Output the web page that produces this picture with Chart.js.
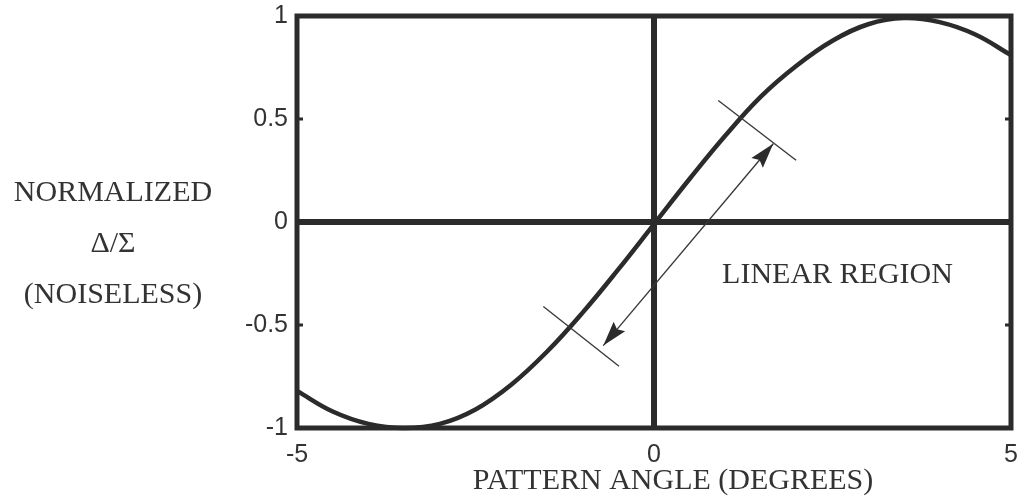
<!DOCTYPE html>
<html>
<head>
<meta charset="utf-8">
<script src="https://cdn.jsdelivr.net/npm/chart.js@4.4.1/dist/chart.umd.min.js"></script>
<style>
  html, body { margin: 0; padding: 0; background: #fff; }
  #wrap { width: 1025px; height: 498px; position: relative; }
</style>
</head>
<body>
<div id="wrap"><canvas id="grafico"></canvas></div>
<script>
// valores
const angulos = [-5, -4.5, -4, -3.5, -3, -2.5, -2, -1.5, -1, -0.5, 0, 0.5, 1, 1.5, 2, 2.5, 3, 3.5, 4, 4.5, 5];
const delta = [-0.82, -0.92, -0.98, -1.0, -0.98, -0.91, -0.79, -0.63, -0.44, -0.23, -0.01, 0.21, 0.42, 0.61, 0.76, 0.88, 0.96, 0.99, 0.97, 0.91, 0.81];
const xTicks = [-5, 0, 5];
const yTicks = [-1, -0.5, 0, 0.5, 1];

// marcas de la región lineal (en unidades de los ejes)
const marcaSup = [[0.90, 0.59], [1.99, 0.30]];
const marcaInf = [[-1.55, -0.41], [-0.49, -0.70]];
const flecha = [[-0.71, -0.60], [1.67, 0.38]];

const tituloY = ["NORMALIZED", "\u0394/\u03A3", "(NOISELESS)"];
const tituloX = "PATTERN ANGLE (DEGREES)";
const textoRegion = "LINEAR REGION";

const tinta = "#2b2b2b";
const serif = "'Liberation Serif', 'Times New Roman', serif";
const sans = "'Liberation Sans', Arial, sans-serif";

function punta(ctx, x0, y0, x1, y1) {
  const a = Math.atan2(y1 - y0, x1 - x0);
  const L = 25, w = 7.5;
  const c = Math.cos(a), s = Math.sin(a);
  ctx.beginPath();
  ctx.moveTo(x1, y1);
  ctx.lineTo(x1 - L * c + w * s, y1 - L * s - w * c);
  ctx.lineTo(x1 - L * 0.85 * c, y1 - L * 0.85 * s);
  ctx.lineTo(x1 - L * c - w * s, y1 - L * s + w * c);
  ctx.closePath();
  ctx.fill();
}

const marco = {
  id: "marco",
  beforeDatasetsDraw(chart) {
    const { ctx, chartArea: a, scales: { x, y } } = chart;
    ctx.save();
    ctx.strokeStyle = tinta;
    // ejes en cero
    ctx.lineWidth = 6;
    ctx.beginPath();
    ctx.moveTo(a.left, y.getPixelForValue(0));
    ctx.lineTo(a.right, y.getPixelForValue(0));
    ctx.moveTo(x.getPixelForValue(0), a.top);
    ctx.lineTo(x.getPixelForValue(0), a.bottom);
    ctx.stroke();
    // marcas internas
    ctx.lineWidth = 3;
    yTicks.forEach(v => {
      const py = y.getPixelForValue(v);
      ctx.beginPath();
      ctx.moveTo(a.left, py); ctx.lineTo(a.left + 6, py);
      ctx.moveTo(a.right, py); ctx.lineTo(a.right - 6, py);
      ctx.stroke();
    });
    // caja
    ctx.lineWidth = 5;
    ctx.strokeRect(a.left, a.top, a.right - a.left, a.bottom - a.top);
    ctx.restore();
  },
  afterDatasetsDraw(chart) {
    const { ctx, chartArea: a, scales: { x, y } } = chart;
    const px = p => [x.getPixelForValue(p[0]), y.getPixelForValue(p[1])];
    ctx.save();
    ctx.strokeStyle = "#3a3a3a";
    ctx.fillStyle = tinta;
    ctx.lineWidth = 1.4;
    [marcaSup, marcaInf, flecha].forEach(seg => {
      const p0 = px(seg[0]), p1 = px(seg[1]);
      ctx.beginPath();
      ctx.moveTo(p0[0], p0[1]);
      ctx.lineTo(p1[0], p1[1]);
      ctx.stroke();
    });
    const f0 = px(flecha[0]), f1 = px(flecha[1]);
    punta(ctx, f0[0], f0[1], f1[0], f1[1]);
    punta(ctx, f1[0], f1[1], f0[0], f0[1]);

    // textos
    ctx.fillStyle = "#333";
    ctx.font = "30px " + serif;
    ctx.textAlign = "center";
    ctx.textBaseline = "middle";
    ctx.fillText(textoRegion, x.getPixelForValue(2.57), y.getPixelForValue(-0.26));
    ctx.fillText(tituloX, (a.left + a.right) / 2 + 19, 481);
    tituloY.forEach((t, i) => ctx.fillText(t, 113, 193 + i * 51));
    ctx.restore();
  }
};

new Chart(document.getElementById("grafico"), {
  type: "line",
  data: {
    datasets: [{
      data: angulos.map((a, i) => ({ x: a, y: delta[i] })),
      borderColor: tinta,
      borderWidth: 4.5,
      pointRadius: 0,
      tension: 0.4,
      clip: false
    }]
  },
  options: {
    responsive: true,
    maintainAspectRatio: false,
    animation: false,
    layout: { padding: { left: 0, right: 14, top: 16, bottom: 0 } },
    plugins: { legend: { display: false }, tooltip: { enabled: false } },
    scales: {
      x: {
        type: "linear", min: -5, max: 5,
        afterBuildTicks: s => { s.ticks = xTicks.map(v => ({ value: v })); },
        afterFit: s => { s.height = 70; s.paddingLeft = 0; s.paddingRight = 0; },
        grid: { display: false, drawTicks: false },
        border: { display: false },
        ticks: { color: "#333", padding: 12, font: { family: sans, size: 25 }, callback: v => String(v) }
      },
      y: {
        min: -1, max: 1,
        afterBuildTicks: s => { s.ticks = yTicks.map(v => ({ value: v })); },
        afterFit: s => { s.width = 297; s.paddingTop = 0; s.paddingBottom = 0; },
        grid: { display: false, drawTicks: false },
        border: { display: false },
        ticks: { color: "#333", padding: 9, font: { family: sans, size: 25 }, callback: v => String(v) }
      }
    }
  },
  plugins: [marco]
});
</script>
</body>
</html>
